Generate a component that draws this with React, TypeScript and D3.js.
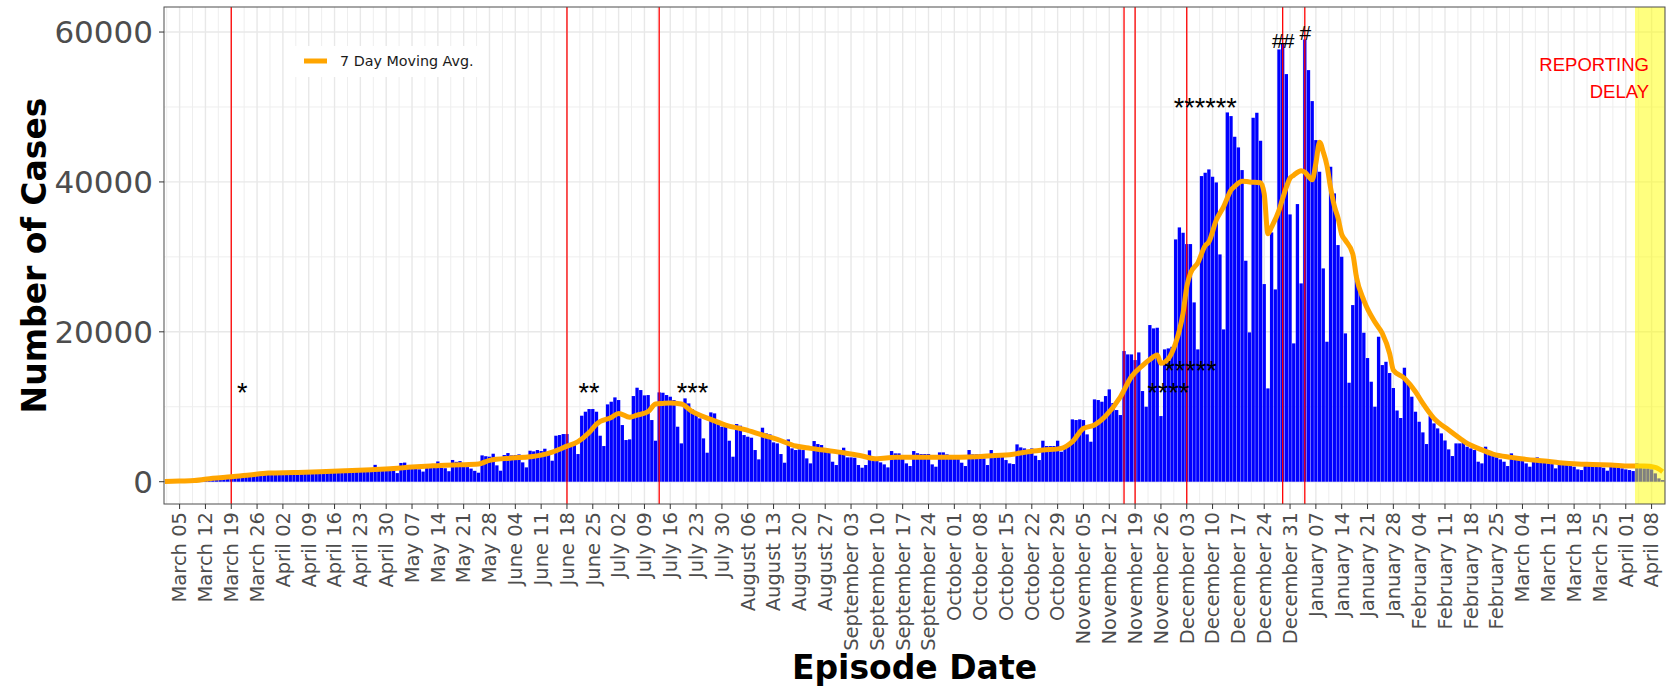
import React from 'react';
import * as d3 from 'd3';

// daily cases by episode date, one value per day starting at START
const START = '2020-03-01';
const dailyCases = [
  30, 40, 60, 80, 100, 130, 160, 200, 240, 290,
  340, 400, 460, 520, 580, 640, 700, 760, 800, 830,
  870, 820, 880, 950, 1000, 1060, 1100, 1150, 1050, 1200,
  1250, 1280, 1300, 1300, 1250, 1150, 1300, 1350, 1400, 1400,
  1380, 1300, 1200, 1450, 1500, 1500, 1550, 1500, 1400, 1300,
  1550, 1600, 1650, 1700, 1650, 1500, 1400, 2250, 1800, 1800,
  1850, 1750, 1600, 1150, 2500, 2550, 1800, 1750, 1750, 1650,
  1350, 1850, 1850, 1850, 2700, 1850, 1800, 1400, 2900, 2650,
  2750, 2000, 1950, 1750, 1450, 1200, 3513, 3400, 3335, 3735,
  2180, 1467, 3558, 3824, 3513, 3558, 3646, 2580, 1912, 4136,
  4050, 4225, 4090, 4400, 3780, 2800, 6137, 6226, 6359, 6359,
  5114, 4892, 3691, 8805, 9339, 9694, 9694, 9339, 6137, 4758,
  10317, 10673, 11251, 10895, 7560, 5559, 5648, 11429, 12541, 12229,
  11518, 11562, 8227, 5470, 11918, 11873, 11562, 11340, 10895, 7338,
  5114, 11118, 10450, 9650, 9116, 8450, 5781, 3869, 9250, 9116,
  8005, 7338, 7338, 5470, 3335, 7693, 7471, 6226, 6003, 5870,
  4225, 2980, 7204, 6448, 6315, 5247, 5114, 3691, 2535, 5648,
  4447, 4225, 4314, 4225, 3113, 2446, 5425, 5025, 4892, 4447,
  4002, 2668, 2224, 4225, 4536, 3246, 3246, 3202, 2224, 1868,
  2224, 4180, 2757, 2757, 2579, 2312, 1912, 4091, 3780, 3780,
  3113, 2446, 2090, 4091, 3800, 3691, 3691, 3691, 2312, 2001,
  3913, 3913, 3646, 3558, 3558, 3024, 2535, 2090, 4225, 3646,
  3646, 3646, 3113, 2224, 4225, 3646, 3646, 3646, 2890, 2446,
  2357, 4981, 4580, 4447, 4225, 4447, 3469, 2890, 5470, 4758,
  4758, 4758, 5470, 4002, 4580, 4800, 8316, 8227, 8316, 8227,
  6315, 5336, 10984, 10895, 10673, 11429, 12318, 10500, 9561, 8894,
  17432, 16987, 16987, 16231, 17254, 12096, 10005, 20901, 20456, 20545,
  8760, 17655, 17788, 18000, 32330, 33930, 33218, 31707, 31707, 23925,
  17655, 40779, 41224, 41669, 40690, 39934, 30328, 20323, 49273, 48784,
  46026, 44603, 41580, 29484, 19923, 48561, 49228, 45493, 26371, 12452,
  33263, 25659, 57678, 58478, 54387, 35665, 18455, 37044, 26460, 59000,
  54920, 50784, 45582, 41357, 28460, 18677, 42024, 38466, 31574, 30017,
  19789, 13207, 23569, 27571, 25348, 19878, 16500, 13341, 10005, 19344,
  15564, 16000, 14500, 12500, 9500, 8500, 15208, 13118, 11340, 9339,
  8000, 6582, 5025, 8760, 7782, 7115, 6448, 5500, 4314, 3424,
  5114, 5114, 5336, 4670, 4447, 4225, 2668, 2446, 4670, 3558,
  3424, 3246, 2980, 2668, 2090, 3780, 3113, 2980, 2800, 2446,
  2001, 2668, 3246, 2668, 2535, 2446, 2357, 1779, 2446, 2668,
  2224, 2090, 2001, 1645, 1556, 2446, 2535, 2357, 2446, 2001,
  1868, 1468, 2357, 2090, 1868, 1779, 1645, 1556, 1423, 2446,
  2224, 1779, 1779, 1645, 1112, 445, 222,
];

// 7 day moving average (day offset from START, value)
const avgDay = [
  0, 4, 8, 13, 18, 23, 28, 35, 42, 49, 56, 62, 67, 72, 76, 80, 85, 88, 94, 99,
  102, 105, 109, 112, 115, 117, 121, 123, 126, 128, 131, 133, 135, 137, 140, 143, 148, 152, 157, 162,
  166, 171, 175, 180, 184, 189, 193, 198, 202, 211, 220, 225, 229, 234, 238, 243, 246, 249, 252, 255,
  259, 262, 265, 267, 269, 270, 272, 274, 275, 276, 277, 278, 280, 282, 283, 285, 287, 289, 290, 292,
  294, 297, 298, 299, 300, 302, 303, 304, 305, 306, 308, 309, 311, 312, 313, 314, 315, 316, 317, 318,
  319, 320, 322, 323, 325, 328, 330, 332, 333, 336, 339, 341, 344, 348, 351, 353, 356, 360, 365, 369,
  374, 378, 383, 387, 392, 397, 401, 404, 406,
];
const avgValue = [
  30, 90, 150, 470, 650, 900, 1150, 1230, 1320, 1450, 1600, 1760, 1950, 2100, 2200, 2250, 2350, 2850, 3150, 3330,
  3550, 3950, 4750, 5350, 6550, 7690, 8580, 9110, 8600, 8890, 9340, 10360, 10450, 10500, 10360, 9340, 8320, 7560, 6980, 6230,
  5650, 4760, 4450, 4140, 3870, 3420, 3050, 3250, 3250, 3250, 3330, 3510, 3600, 4000, 4220, 4450, 5340, 7100, 7560, 8760,
  11300, 14000, 15500, 16300, 16900, 15800, 16400, 18500, 20200, 22500, 26000, 27800, 29200, 31500, 32000, 34900, 36700, 38900, 39400, 40100,
  40000, 39900, 38400, 33100, 34000, 36200, 37800, 39300, 40500, 40900, 41500, 41300, 40300, 42500, 45300, 44000, 42200, 39200, 36800, 35200,
  33000, 32200, 30400, 27300, 24200, 21300, 19800, 17100, 14900, 13800, 12000, 10450, 8450, 6900, 5800, 5100, 4450, 3690, 3250, 2980,
  2760, 2540, 2360, 2310, 2220, 2090, 2090, 1910, 1340,
];

const eventDates = ['2020-03-19', '2020-06-18', '2020-07-13', '2020-11-16', '2020-11-19', '2020-12-03', '2020-12-29', '2021-01-04'];
const noteDates = ['2020-03-22', '2020-06-24', '2020-07-22', '2020-11-28', '2020-12-04', '2020-12-08', '2020-12-29', '2021-01-04'];
const noteLabels = ['*', '**', '***', '****', '*****', '******', '##', '#'];
const noteValues = [12700, 12700, 12700, 12700, 15700, 50700, 58900, 60000];
const delayFrom = '2021-04-04';
const yTicks = [0, 20000, 40000, 60000];
const yMinor = [10000, 30000, 50000];

const W = 1668, H = 688;
const L = 164, R = 1665, T = 7, B = 504;
const HALF = 12 * 3600 * 1000;
const parse = d3.utcParse('%Y-%m-%d');
const start = parse(START) as Date;
const dayAt = (i: number) => d3.utcDay.offset(start, i);
const last = dayAt(dailyCases.length - 1);

const x = d3.scaleUtc()
  .domain([new Date(+start - HALF), new Date(+last + HALF)])
  .range([163, 1664.5]);
const y = d3.scaleLinear().domain([-2975, 63340]).range([B, T]);
const fmt = d3.utcFormat('%B %d');

export default function App() {
  const step = x(dayAt(1)) - x(dayAt(0));
  const barW = step * 0.9;
  const majors = d3.utcThursday.range(start, new Date(+last + 1));
  const minors = [new Date(+majors[0] - 3.5 * 2 * HALF), ...majors.map(d => new Date(+d + 3.5 * 2 * HALF))]
    .filter(d => x(d) > L && x(d) < R);
  const avgLine = d3.line<number>()
    .x(i => x(dayAt(avgDay[i])))
    .y(i => y(avgValue[i]))
    .curve(d3.curveMonotoneX)(avgDay.map((_, i) => i)) as string;
  const delayX = x(new Date(+(parse(delayFrom) as Date) - HALF));

  return (
    <div style={{ position: 'absolute', left: 0, top: 0 }}>
      <svg width={W} height={H} style={{ display: 'block', background: '#fff' }}>
        <rect x={L} y={T} width={R - L} height={B - T} fill="#fff" />
        {/* grid */}
        {minors.map((d, k) => (
          <line key={'vm' + k} x1={x(d)} x2={x(d)} y1={T} y2={B} stroke="#eeeeee" strokeWidth={1} />
        ))}
        {yMinor.map(v => (
          <line key={'hm' + v} x1={L} x2={R} y1={y(v)} y2={y(v)} stroke="#eeeeee" strokeWidth={1} />
        ))}
        {majors.map((d, k) => (
          <line key={'vM' + k} x1={x(d)} x2={x(d)} y1={T} y2={B} stroke="#e8e8e8" strokeWidth={1.4} />
        ))}
        {yTicks.map(v => (
          <line key={'hM' + v} x1={L} x2={R} y1={y(v)} y2={y(v)} stroke="#e8e8e8" strokeWidth={1.4} />
        ))}

        {/* bars */}
        {dailyCases.map((v, i) => (
          <rect key={i} x={x(dayAt(i)) - barW / 2} y={y(v)} width={barW} height={y(0) - y(v)} fill="#0000ff" />
        ))}

        {/* policy dates */}
        {eventDates.map(s => {
          const px = x(parse(s) as Date);
          return <line key={s} x1={px} x2={px} y1={T} y2={B} stroke="#ff0000" strokeWidth={1.3} />;
        })}

        <path d={avgLine} fill="none" stroke="#ffa500" strokeWidth={5} strokeLinejoin="round" />

        {/* reporting delay band */}
        <rect x={delayX} y={T} width={R - delayX} height={B - T} fill="#ffff00" fillOpacity={0.5} />

        {noteLabels.map((t, k) => {
          const isHash = t.startsWith('#');
          const fs = isHash ? 21 : 27;
          return (
            <text key={k} x={x(parse(noteDates[k]) as Date)} y={y(noteValues[k])}
              dy={isHash ? fs * 0.36 : fs * 0.575} textAnchor="middle"
              fontFamily="Liberation Sans, Arial, sans-serif" fontSize={fs} fill="#000"
              letterSpacing={isHash ? -1 : 0}>{t}</text>
          );
        })}

        {/* legend */}
        <rect x={294} y={46} width={190} height={31} fill="#fff" />
        <line x1={304} x2={327} y1={61} y2={61} stroke="#ffa500" strokeWidth={5} />
        <text x={340} y={61} dy="0.36em" fontFamily="DejaVu Sans, sans-serif" fontSize={14.3} fill="#1a1a1a">7 Day Moving Avg.</text>

        <text x={1649} y={70.7} textAnchor="end" fontFamily="Liberation Sans, Arial, sans-serif" fontSize={18.5} fill="#ff0000">REPORTING</text>
        <text x={1649} y={97.7} textAnchor="end" fontFamily="Liberation Sans, Arial, sans-serif" fontSize={18.5} fill="#ff0000">DELAY</text>

        <rect x={L} y={T} width={R - L} height={B - T} fill="none" stroke="#4d4d4d" strokeWidth={1} />

        {/* y axis */}
        {yTicks.map(v => (
          <g key={'yt' + v}>
            <line x1={L - 5} x2={L} y1={y(v)} y2={y(v)} stroke="#333" strokeWidth={1} />
            <text x={153} y={y(v)} dy="0.36em" textAnchor="end" fontFamily="DejaVu Sans, sans-serif" fontSize={31} fill="#4d4d4d">{v}</text>
          </g>
        ))}
        {/* x axis */}
        {majors.map((d, k) => (
          <g key={'xt' + k}>
            <line x1={x(d)} x2={x(d)} y1={B} y2={B + 5} stroke="#333" strokeWidth={1} />
            <text transform={`translate(${x(d)},${B + 8}) rotate(-90)`} dy="0.35em" textAnchor="end"
              fontFamily="DejaVu Sans, sans-serif" fontSize={19.5} fill="#4d4d4d">{fmt(d)}</text>
          </g>
        ))}

        <text x={(L + R) / 2} y={679} textAnchor="middle" fontFamily="DejaVu Sans, sans-serif" fontWeight="bold" fontSize={33} fill="#000">Episode Date</text>
        <text transform={`translate(46,${(T + B) / 2}) rotate(-90)`} textAnchor="middle" fontFamily="DejaVu Sans, sans-serif" fontWeight="bold" fontSize={33} fill="#000">Number of Cases</text>
      </svg>
    </div>
  );
}
